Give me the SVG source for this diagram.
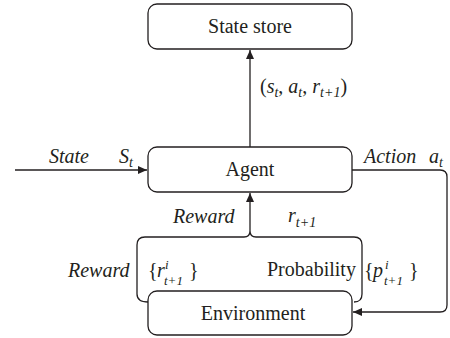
<svg xmlns="http://www.w3.org/2000/svg" width="450" height="338" viewBox="0 0 450 338">
<defs>
<marker id="ah" markerWidth="10" markerHeight="8" refX="9" refY="4" orient="auto" markerUnits="userSpaceOnUse">
<path d="M0,0 L9,4 L0,8 Z" fill="#231f20"/>
</marker>
<style>
.box{fill:#fff;stroke:#231f20;stroke-width:1.3}
.ln{fill:none;stroke:#231f20;stroke-width:1.3}
text{font-family:"Liberation Serif","Times New Roman",serif;font-size:20px;fill:#231f20}
.c{text-anchor:middle}
.it{font-style:italic}
.s{font-size:14px}
.ss{font-size:13px}
</style>
</defs>
<rect width="450" height="338" fill="#fff"/>
<g id="connectors">
<path class="ln" d="M250,147 L250,50" marker-end="url(#ah)"/>
<path class="ln" d="M15,170 L147,170" marker-end="url(#ah)"/>
<path class="ln" d="M352,170 L440,170 Q447,170 447,177 L447,305 Q447,312 440,312 L353,312" marker-end="url(#ah)"/>
<path class="ln" d="M148,302 Q137,302 137,294 L137,245 Q137,237 145,237 L244,237 Q250,237 250,231 Q250,237 256,237 L354,237 Q362,237 362,245 L362,294 Q362,302 354,302"/>
<path class="ln" d="M250,231 L250,193" marker-end="url(#ah)"/>
</g>
<g id="state-store">
<rect class="box" x="148" y="4" width="204" height="45" rx="9"/>
<text class="c" x="250" y="33">State store</text>
</g>
<g id="agent">
<rect class="box" x="148" y="147" width="204" height="45" rx="9"/>
<text class="c" x="250" y="176">Agent</text>
</g>
<g id="environment">
<rect class="box" x="148" y="291" width="204" height="44" rx="9"/>
<text class="c" x="253" y="320">Environment</text>
</g>
<g id="labels">
<text x="260" y="93">(<tspan class="it">s</tspan><tspan class="it s" dy="4">t</tspan><tspan dy="-4">, </tspan><tspan class="it">a</tspan><tspan class="it s" dy="4">t</tspan><tspan dy="-4">, </tspan><tspan class="it">r</tspan><tspan class="it s" dy="4">t+1</tspan><tspan dy="-4">)</tspan></text>
<text class="it" x="49" y="163">State</text>
<text class="it" x="119" y="163">S<tspan class="s" dy="4">t</tspan></text>
<text class="it" x="364" y="163">Action</text>
<text class="it" x="429" y="163">a<tspan class="s" dy="4">t</tspan></text>
<text class="it" x="173" y="223">Reward</text>
<text class="it" x="288" y="222">r<tspan class="s" dy="5">t+1</tspan></text>
<text class="it" x="68" y="277">Reward</text>
<text x="148" y="277">{<tspan class="it" x="157">r</tspan><tspan class="it ss" x="165" dy="-8">i</tspan><tspan class="it ss" x="164" dy="16">t+1</tspan><tspan x="189" dy="-8">}</tspan></text>
<text x="267" y="276">Probability</text>
<text x="364" y="277">{<tspan class="it" x="373">p</tspan><tspan class="it ss" x="385" dy="-8">i</tspan><tspan class="it ss" x="384" dy="16">t+1</tspan><tspan x="409" dy="-8">}</tspan></text>
</g>
</svg>
